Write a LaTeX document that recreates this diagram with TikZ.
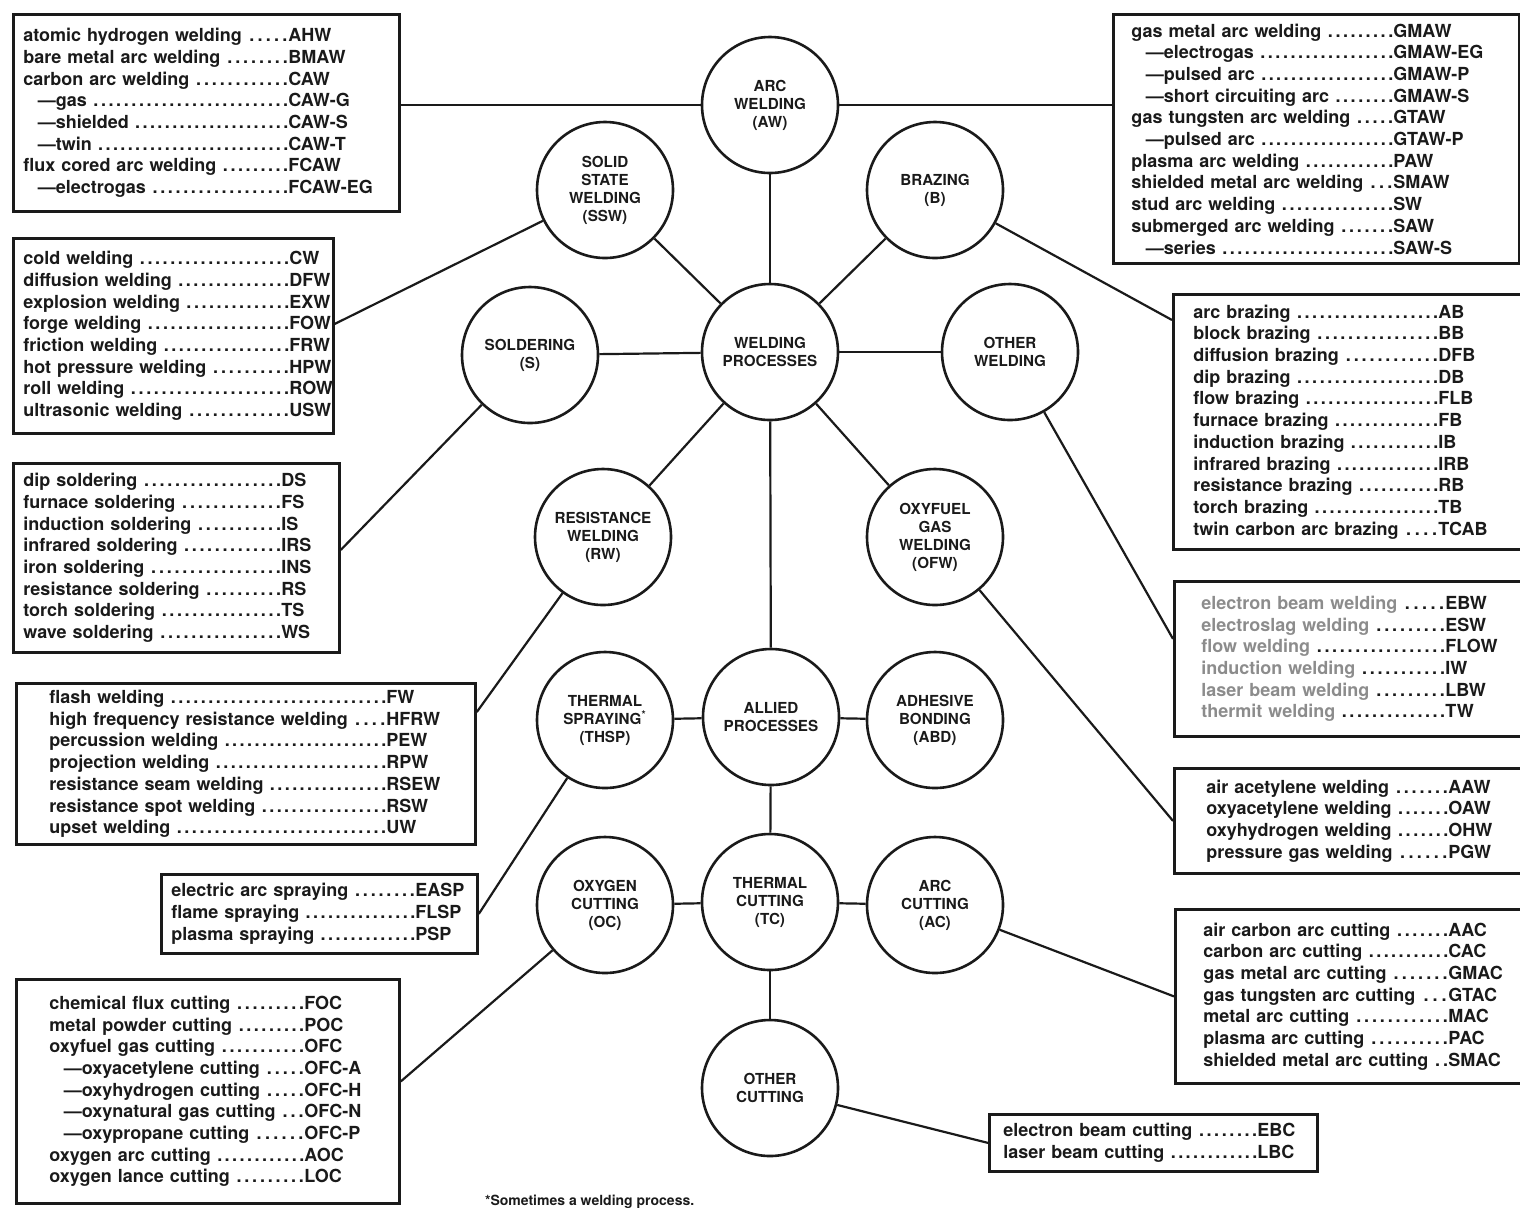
\documentclass[tikz,border=0pt]{standalone}
\usepackage{fontspec}
\setmainfont{TeX Gyre Heros}
\usepackage{xcolor}
\definecolor{wsink}{HTML}{1A1A1A}
\definecolor{wsfade}{HTML}{8C8C8C}
\usepackage{tikz}

\newlength{\lw}
\newcommand{\dleader}{\hspace{2pt}\xleaders\hbox to 3.7pt{\hfil.}\hfill}
\newcommand{\ent}[2]{\makebox[\lw][l]{#1\dleader}#2}
\newcommand{\fent}[2]{\makebox[\lw][l]{\textcolor{wsfade}{#1}\dleader}#2}
\newcommand{\subd}{\hspace*{0.8em}---}

\begin{document}
\begin{tikzpicture}[x=0.5pt, y=-0.5pt,
      proc/.style={circle, draw=wsink, line width=1.3pt, minimum size=68pt,
                   inner sep=0pt, align=center, text=wsink,
                   font=\fontsize{7.6}{9}\selectfont\bfseries},
      plist/.style={draw=wsink, line width=1.4pt, anchor=north west,
                    inner ysep=0pt, align=left, text=wsink,
                    font=\fontsize{9}{10.85}\selectfont\bfseries},
      lw/.code={\setlength{\lw}{#1}},
      link/.style={draw=wsink, line width=1.1pt},
    ]
    \useasboundingbox (0,0) rectangle (1520,1207);
    \clip (0,0) rectangle (1520,1207);

    % process circles
    \node[proc] (aw)     at (770,105)  {ARC\\WELDING\\(AW)};
    \node[proc] (ssw)    at (605,190)  {SOLID\\STATE\\WELDING\\(SSW)};
    \node[proc] (braz)   at (935,190)  {BRAZING\\(B)};
    \node[proc] (sold)   at (530,355)  {SOLDERING\\(S)};
    \node[proc] (wp)     at (770,352)  {WELDING\\PROCESSES};
    \node[proc] (ow)     at (1010,352) {OTHER\\WELDING};
    \node[proc] (rw)     at (603,537)  {RESISTANCE\\WELDING\\(RW)};
    \node[proc] (ofw)    at (935,537)  {OXYFUEL\\GAS\\WELDING\\(OFW)};
    \node[proc] (thsp)   at (605,720)  {THERMAL\\SPRAYING\textsuperscript{*}\\(THSP)};
    \node[proc] (allied) at (771,717)  {ALLIED\\PROCESSES};
    \node[proc] (abd)    at (935,720)  {ADHESIVE\\BONDING\\(ABD)};
    \node[proc] (oc)     at (605,905)  {OXYGEN\\CUTTING\\(OC)};
    \node[proc] (tc)     at (770,902)  {THERMAL\\CUTTING\\(TC)};
    \node[proc] (ac)     at (935,905)  {ARC\\CUTTING\\(AC)};
    \node[proc] (othc)   at (770,1088) {OTHER\\CUTTING};

    \foreach \p in {aw,ssw,braz,sold,ow,rw,ofw,allied}
      \draw[link] (wp) -- (\p);
    \foreach \p in {thsp,abd,tc}
      \draw[link] (allied) -- (\p);
    \foreach \p in {oc,ac,othc}
      \draw[link] (tc) -- (\p);

    % process lists, left side
    \node[plist, lw=132.5pt, minimum width=193pt, minimum height=98.5pt,
          text width=183pt, inner xsep=5pt] (awlist) at (12,13) {%
      \ent{atomic hydrogen welding}{AHW}\\
      \ent{bare metal arc welding}{BMAW}\\
      \ent{carbon arc welding}{CAW}\\
      \ent{\subd gas}{CAW-G}\\
      \ent{\subd shielded}{CAW-S}\\
      \ent{\subd twin}{CAW-T}\\
      \ent{flux cored arc welding}{FCAW}\\
      \ent{\subd electrogas}{FCAW-EG}};

    \node[plist, lw=133pt, minimum width=160pt, minimum height=97.5pt,
          text width=150pt, inner xsep=5pt] (sswlist) at (12,237) {%
      \ent{cold welding}{CW}\\
      \ent{diffusion welding}{DFW}\\
      \ent{explosion welding}{EXW}\\
      \ent{forge welding}{FOW}\\
      \ent{friction welding}{FRW}\\
      \ent{hot pressure welding}{HPW}\\
      \ent{roll welding}{ROW}\\
      \ent{ultrasonic welding}{USW}};

    \node[plist, lw=129pt, minimum width=163pt, minimum height=94.5pt,
          text width=153pt, inner xsep=5pt] (soldlist) at (12,462) {%
      \ent{dip soldering}{DS}\\
      \ent{furnace soldering}{FS}\\
      \ent{induction soldering}{IS}\\
      \ent{infrared soldering}{IRS}\\
      \ent{iron soldering}{INS}\\
      \ent{resistance soldering}{RS}\\
      \ent{torch soldering}{TS}\\
      \ent{wave soldering}{WS}};

    \node[plist, lw=168.5pt, minimum width=229.5pt, minimum height=80.5pt,
          text width=196.5pt, inner xsep=16.5pt] (rwlist) at (15,682) {%
      \ent{flash welding}{FW}\\
      \ent{high frequency resistance welding}{HFRW}\\
      \ent{percussion welding}{PEW}\\
      \ent{projection welding}{RPW}\\
      \ent{resistance seam welding}{RSEW}\\
      \ent{resistance spot welding}{RSW}\\
      \ent{upset welding}{UW}};

    \node[plist, lw=122pt, minimum width=158pt, minimum height=39.5pt,
          text width=148pt, inner xsep=5pt] (thsplist) at (160,873) {%
      \ent{electric arc spraying}{EASP}\\
      \ent{flame spraying}{FLSP}\\
      \ent{plasma spraying}{PSP}};

    \node[plist, lw=127.5pt, minimum width=191.5pt, minimum height=112pt,
          text width=158.5pt, inner xsep=16.5pt] (oclist) at (15,978) {%
      \ent{chemical flux cutting}{FOC}\\
      \ent{metal powder cutting}{POC}\\
      \ent{oxyfuel gas cutting}{OFC}\\
      \ent{\subd oxyacetylene cutting}{OFC-A}\\
      \ent{\subd oxyhydrogen cutting}{OFC-H}\\
      \ent{\subd oxynatural gas cutting}{OFC-N}\\
      \ent{\subd oxypropane cutting}{OFC-P}\\
      \ent{oxygen arc cutting}{AOC}\\
      \ent{oxygen lance cutting}{LOC}};

    % process lists, right side
    \node[plist, lw=131pt, minimum width=203pt, minimum height=124.5pt,
          text width=185pt, inner xsep=9pt] (gmawlist) at (1112,13) {%
      \ent{gas metal arc welding}{GMAW}\\
      \ent{\subd electrogas}{GMAW-EG}\\
      \ent{\subd pulsed arc}{GMAW-P}\\
      \ent{\subd short circuiting arc}{GMAW-S}\\
      \ent{gas tungsten arc welding}{GTAW}\\
      \ent{\subd pulsed arc}{GTAW-P}\\
      \ent{plasma arc welding}{PAW}\\
      \ent{shielded metal arc welding}{SMAW}\\
      \ent{stud arc welding}{SW}\\
      \ent{submerged arc welding}{SAW}\\
      \ent{\subd series}{SAW-S}};

    \node[plist, lw=122.5pt, minimum width=179pt, minimum height=127.5pt,
          text width=159pt, inner xsep=10pt] (brazlist) at (1172,293) {%
      \ent{arc brazing}{AB}\\
      \ent{block brazing}{BB}\\
      \ent{diffusion brazing}{DFB}\\
      \ent{dip brazing}{DB}\\
      \ent{flow brazing}{FLB}\\
      \ent{furnace brazing}{FB}\\
      \ent{induction brazing}{IB}\\
      \ent{infrared brazing}{IRB}\\
      \ent{resistance brazing}{RB}\\
      \ent{torch brazing}{TB}\\
      \ent{twin carbon arc brazing}{TCAB}};

    \node[plist, lw=122pt, minimum width=178.5pt, minimum height=77.5pt,
          text width=151.5pt, inner xsep=13.5pt] (owlist) at (1173,580) {%
      \fent{electron beam welding}{EBW}\\
      \fent{electroslag welding}{ESW}\\
      \fent{flow welding}{FLOW}\\
      \fent{induction welding}{IW}\\
      \fent{laser beam welding}{LBW}\\
      \fent{thermit welding}{TW}};

    \node[plist, lw=121pt, minimum width=178.5pt, minimum height=52.5pt,
          text width=146.5pt, inner xsep=16pt] (ofwlist) at (1173,767) {%
      \ent{air acetylene welding}{AAW}\\
      \ent{oxyacetylene welding}{OAW}\\
      \ent{oxyhydrogen welding}{OHW}\\
      \ent{pressure gas welding}{PGW}};

    \node[plist, lw=122.5pt, minimum width=178pt, minimum height=87pt,
          text width=150pt, inner xsep=14pt] (aclist) at (1174,908) {%
      \ent{air carbon arc cutting}{AAC}\\
      \ent{carbon arc cutting}{CAC}\\
      \ent{gas metal arc cutting}{GMAC}\\
      \ent{gas tungsten arc cutting}{GTAC}\\
      \ent{metal arc cutting}{MAC}\\
      \ent{plasma arc cutting}{PAC}\\
      \ent{shielded metal arc cutting}{SMAC}};

    \node[plist, lw=127pt, minimum width=164pt, minimum height=28.5pt,
          text width=150pt, inner xsep=7pt] (othclist) at (988,1113) {%
      \ent{electron beam cutting}{EBC}\\
      \ent{laser beam cutting}{LBC}};

    \draw[link] (aw.west) -- (aw.west -| awlist.east);
    \draw[link] (aw.east) -- (aw.east -| gmawlist.west);
    \draw[link] ([yshift=6pt]sswlist.east) -- (ssw);
    \draw[link] ([yshift=4pt]soldlist.east) -- (sold);
    \draw[link] ([yshift=-15pt]rwlist.north east) -- (rw);
    \draw[link] (thsplist.east) -- (thsp);
    \draw[link] ([yshift=5pt]oclist.east) -- (oc);
    \draw[link] ([yshift=-13.5pt]brazlist.north west) -- (braz);
    \draw[link] ([yshift=10pt]owlist.west) -- (ow);
    \draw[link] (ofwlist.west) -- (ofw);
    \draw[link] (aclist.west) -- (ac);
    \draw[link] (othclist.west) -- (othc);

    \node[anchor=base west, text=wsink, font=\fontsize{7}{8}\selectfont\bfseries]
      (note) at (478,1205) {*Sometimes a welding process.};
  \end{tikzpicture}
\end{document}
